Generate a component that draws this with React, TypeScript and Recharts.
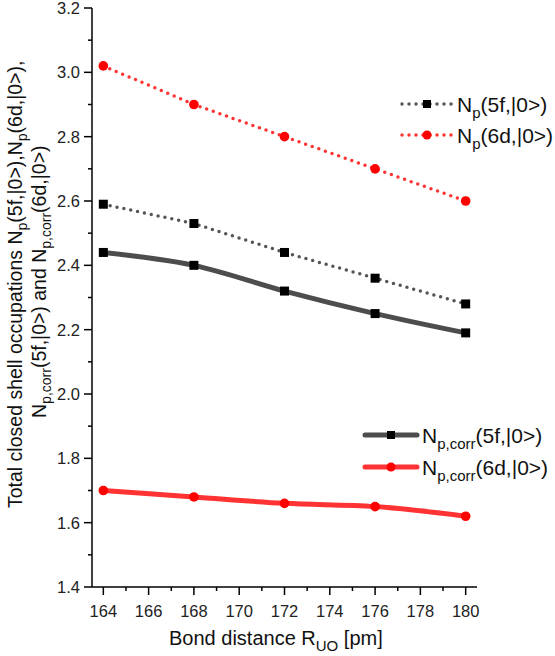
import React from 'react';
import { LineChart, Line, XAxis, YAxis } from 'recharts';

// bond distance R_UO in pm
const distances = [164, 168, 172, 176, 180];
const np5f = [2.59, 2.53, 2.44, 2.36, 2.28];
const np6d = [3.02, 2.9, 2.8, 2.7, 2.6];
const npCorr5f = [2.44, 2.4, 2.32, 2.25, 2.19];
const npCorr6d = [1.7, 1.68, 1.66, 1.65, 1.62];

const xTicks = [164, 165, 166, 167, 168, 169, 170, 171, 172, 173, 174, 175, 176, 177, 178, 179, 180];
const xLabels = [164, 166, 168, 170, 172, 174, 176, 178, 180];
const yTicks = [1.4, 1.5, 1.6, 1.7, 1.8, 1.9, 2.0, 2.1, 2.2, 2.3, 2.4, 2.5, 2.6, 2.7, 2.8, 2.9, 3.0, 3.1, 3.2];
const yLabels = [1.4, 1.6, 1.8, 2.0, 2.2, 2.4, 2.6, 2.8, 3.0, 3.2];

const data = distances.map((r, i) => ({
  r,
  np5f: np5f[i],
  np6d: np6d[i],
  npCorr5f: npCorr5f[i],
  npCorr6d: npCorr6d[i],
}));

const FONT = '"Liberation Sans", Arial, sans-serif';
const GRAY_DOT = '#555555';
const GRAY_LINE = '#4d4d4d';
const RED = '#ff0000';
const RED_LINE = '#ff3333';

const XTick = (props: any) => {
  const { x, y, payload } = props;
  const v = payload.value;
  const major = xLabels.includes(v);
  return (
    <g>
      <line x1={x} x2={x} y1={y} y2={y + (major ? 8 : 4)} stroke='#000' strokeWidth={1.5} />
      {major && (
        <text x={x} y={y + 30} textAnchor='middle' fontSize={16.5} fontFamily={FONT} fill='#222'>
          {v}
        </text>
      )}
    </g>
  );
};

const YTick = (props: any) => {
  const { x, y, payload } = props;
  const v = payload.value;
  const major = yLabels.some((l) => Math.abs(l - v) < 1e-6);
  return (
    <g>
      <line x1={x} x2={x - (major ? 8 : 4)} y1={y} y2={y} stroke='#000' strokeWidth={1.5} />
      {major && (
        <text x={x - 12} y={y + 6} textAnchor='end' fontSize={16.5} fontFamily={FONT} fill='#222'>
          {v.toFixed(1)}
        </text>
      )}
    </g>
  );
};

const Square = (props: any) => {
  const { cx, cy, index } = props;
  if (cx == null || cy == null) return <g key={index} />;
  return <rect key={index} x={cx - 4.5} y={cy - 4.5} width={9} height={9} fill='#000' />;
};

const Circle = (props: any) => {
  const { cx, cy, index } = props;
  if (cx == null || cy == null) return <g key={index} />;
  return <circle key={index} cx={cx} cy={cy} r={4.8} fill={RED} />;
};

const Sub = ({ main, sub, rest, size, subSize }: any) => (
  <>
    <tspan fontSize={size}>{main}</tspan>
    <tspan fontSize={subSize} dy={size * 0.28}>
      {sub}
    </tspan>
    <tspan fontSize={size} dy={-size * 0.28}>
      {rest}
    </tspan>
  </>
);

const LegendRow = ({ y, x0, x1, dotted, color, marker, sub, rest }: any) => {
  const mid = (x0 + x1) / 2;
  return (
    <g>
      <line
        x1={x0}
        x2={x1}
        y1={y}
        y2={y}
        stroke={color}
        strokeWidth={dotted ? 3.5 : 5}
        strokeDasharray={dotted ? '0 7' : undefined}
        strokeLinecap='round'
      />
      {marker === 'square' ? (
        <rect x={mid - 4} y={y - 4} width={8} height={8} fill='#000' />
      ) : (
        <circle cx={mid} cy={y} r={4.5} fill={RED} />
      )}
      <text x={x1 + 5} y={y + 8} fontFamily={FONT} fill='#111'>
        <Sub main='N' sub={sub} rest={rest} size={21} subSize={15} />
      </text>
    </g>
  );
};

const App = () => {
  return (
    <div style={{ position: 'absolute', left: 0, top: 0, width: 555, height: 656, background: '#fff' }}>
      <LineChart width={555} height={656} data={data} margin={{ top: 8, right: 78, bottom: 0, left: 0 }}>
        <XAxis
          dataKey='r'
          type='number'
          domain={[163.5, 180.5]}
          ticks={xTicks}
          interval={0}
          height={69}
          tickSize={0}
          tickMargin={0}
          tickLine={false}
          tick={<XTick />}
          axisLine={{ stroke: '#000', strokeWidth: 1.5 }}
        />
        <YAxis
          type='number'
          domain={[1.4, 3.2]}
          ticks={yTicks}
          interval={0}
          width={92}
          tickSize={0}
          tickMargin={0}
          tickLine={false}
          tick={<YTick />}
          axisLine={{ stroke: '#000', strokeWidth: 1.5 }}
        />
        <Line
          type='linear'
          dataKey='np5f'
          stroke={GRAY_DOT}
          strokeWidth={3.5}
          strokeDasharray='0 7'
          strokeLinecap='round'
          dot={<Square />}
          isAnimationActive={false}
        />
        <Line
          type='linear'
          dataKey='np6d'
          stroke={RED_LINE}
          strokeWidth={3.5}
          strokeDasharray='0 7'
          strokeLinecap='round'
          dot={<Circle />}
          isAnimationActive={false}
        />
        <Line
          type='monotone'
          dataKey='npCorr5f'
          stroke={GRAY_LINE}
          strokeWidth={5}
          dot={<Square />}
          isAnimationActive={false}
        />
        <Line
          type='monotone'
          dataKey='npCorr6d'
          stroke={RED_LINE}
          strokeWidth={5}
          dot={<Circle />}
          isAnimationActive={false}
        />
      </LineChart>
      <svg width={555} height={656} style={{ position: 'absolute', left: 0, top: 0, pointerEvents: 'none' }}>
        <LegendRow y={104} x0={402} x1={452} dotted color={GRAY_DOT} marker='square' sub='p' rest='(5f,|0>)' />
        <LegendRow y={135} x0={402} x1={452} dotted color={RED_LINE} marker='circle' sub='p' rest='(6d,|0>)' />
        <LegendRow y={435} x0={365} x1={417} color={GRAY_LINE} marker='square' sub='p,corr' rest='(5f,|0>)' />
        <LegendRow y={467} x0={365} x1={417} color={RED_LINE} marker='circle' sub='p,corr' rest='(6d,|0>)' />
        <text x={169} y={645} fontFamily={FONT} fill='#111'>
          <Sub main='Bond distance R' sub='UO' rest=' [pm]' size={20} subSize={15} />
        </text>
        <text transform='translate(22,508) rotate(-90)' fontFamily={FONT} fill='#111'>
          <Sub main='Total closed shell occupations N' sub='p' rest='(5f,|0>),' size={19.5} subSize={14} />
          <Sub main='N' sub='p' rest='(6d,|0>),' size={19.5} subSize={14} />
        </text>
        <text transform='translate(46,418) rotate(-90)' fontFamily={FONT} fill='#111'>
          <Sub main='N' sub='p,corr' rest='(5f,|0>) and ' size={19.5} subSize={14} />
          <Sub main='N' sub='p,corr' rest='(6d,|0>)' size={19.5} subSize={14} />
        </text>
      </svg>
    </div>
  );
};

export default App;
